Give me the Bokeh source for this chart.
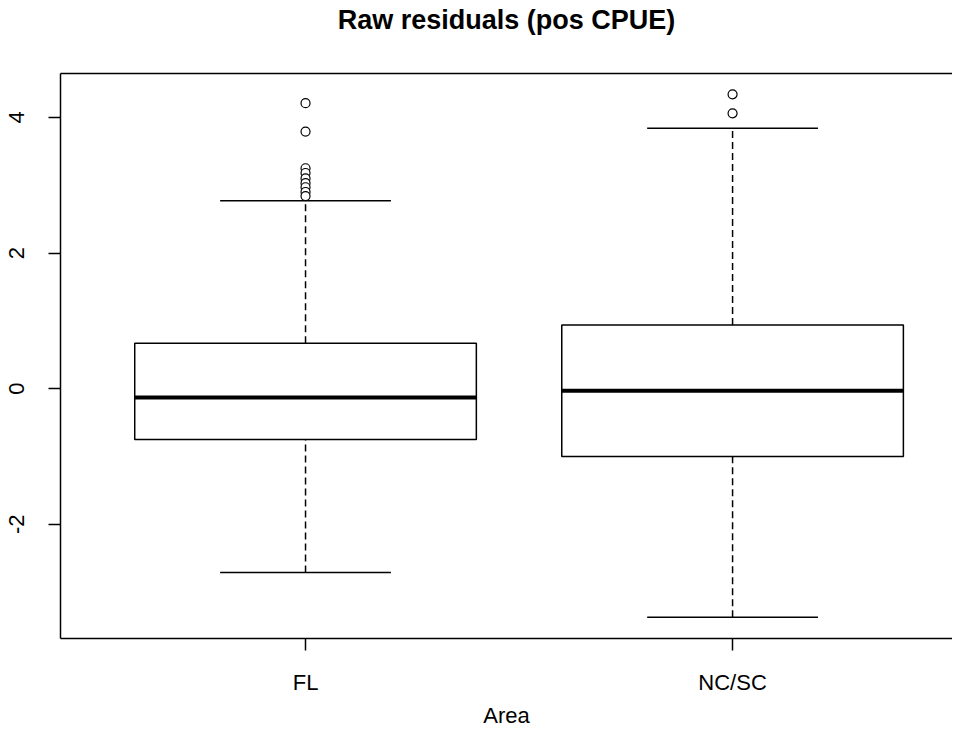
from bokeh.plotting import figure
from bokeh.models import Range1d, FixedTicker, LinearAxis, Title, ColumnDataSource
from bokeh.embed import file_html
from bokeh.resources import INLINE

# ---- data ----
categories = ["FL", "NC/SC"]
positions = [1, 2]
q1 = [-0.75, -1.00]
medians = [-0.13, -0.03]
q3 = [0.67, 0.94]
lower_whisker = [-2.71, -3.37]
upper_whisker = [2.77, 3.84]
outliers_fl = [4.21, 3.79, 3.25, 3.18, 3.10, 3.03, 2.97, 2.90, 2.84]
outliers_ncsc = [4.34, 4.06]
y_ticks = [-2, 0, 2, 4]
y_tick_labels = ["-2", "0", "2", "4"]
title_text = "Raw residuals (pos CPUE)"
x_title = "Area"

FONT = "Liberation Sans"
box_w = 0.8
cap_w = 0.4

p = figure(width=952, height=734, output_backend="svg", toolbar_location=None,
           x_range=Range1d(0.4262, 2.515), y_range=Range1d(-3.684, 4.647),
           title=None, min_border_left=60, min_border_right=0,
           min_border_top=0, min_border_bottom=95)
p.outline_line_color = None
p.xgrid.visible = False
p.ygrid.visible = False
p.background_fill_color = "white"
p.border_fill_color = "white"

src = ColumnDataSource(dict(
    x=positions, q1=q1, med=medians, q3=q3, lw=lower_whisker, uw=upper_whisker,
    left=[x - box_w / 2 for x in positions], right=[x + box_w / 2 for x in positions],
    cl=[x - cap_w / 2 for x in positions], cr=[x + cap_w / 2 for x in positions],
))

# whiskers (dashed)
p.segment(x0="x", y0="q3", x1="x", y1="uw", source=src, line_color="black",
          line_width=1.5, line_dash="7 4")
p.segment(x0="x", y0="lw", x1="x", y1="q1", source=src, line_color="black",
          line_width=1.5, line_dash="7 4")
# caps
p.segment(x0="cl", y0="uw", x1="cr", y1="uw", source=src, line_color="black", line_width=1.5)
p.segment(x0="cl", y0="lw", x1="cr", y1="lw", source=src, line_color="black", line_width=1.5)
# boxes
p.quad(left="left", right="right", bottom="q1", top="q3", source=src,
       fill_color="white", line_color="black", line_width=1.5)
# medians
p.segment(x0="left", y0="med", x1="right", y1="med", source=src, line_color="black", line_width=4)

# outliers
ox = [positions[0]] * len(outliers_fl) + [positions[1]] * len(outliers_ncsc)
oy = outliers_fl + outliers_ncsc
p.scatter(ox, oy, marker="circle", size=9, fill_color="white", line_color="black", line_width=1.2)

# axes
for ax in (p.xaxis[0], p.yaxis[0]):
    ax.axis_line_color = "black"
    ax.axis_line_width = 1.5
    ax.major_tick_line_color = "black"
    ax.major_tick_line_width = 1.5
    ax.major_tick_out = 12
    ax.major_tick_in = 0
    ax.minor_tick_line_color = None
    ax.major_label_text_font = FONT
    ax.major_label_text_font_size = "22px"
    ax.major_label_text_color = "black"

p.yaxis.ticker = FixedTicker(ticks=y_ticks)
p.yaxis.major_label_overrides = {t: s for t, s in zip(y_ticks, y_tick_labels)}
p.yaxis.major_label_orientation = "vertical"
p.yaxis.major_label_standoff = 24

p.xaxis.ticker = FixedTicker(ticks=positions)
p.xaxis.major_label_overrides = {pos: lab for pos, lab in zip(positions, categories)}
p.xaxis.major_label_standoff = 19

# x-axis title
p.add_layout(Title(text=x_title, text_font=FONT, text_font_size="22px",
                   text_font_style="normal", align="center", text_color="black",
                   vertical_align="top", offset=12, standoff=10), "below")

# top border as an axis without ticks; a transparent label gives spacing under the title
top = LinearAxis(ticker=FixedTicker(ticks=[]), axis_line_color="black", axis_line_width=1.5,
                 major_tick_line_color=None, minor_tick_line_color=None,
                 major_label_text_font_size="0px",
                 axis_label=".", axis_label_text_font_size="10px",
                 axis_label_text_alpha=0.0, axis_label_standoff=21)
p.add_layout(top, "above")

p.add_layout(Title(text=title_text, text_font=FONT, text_font_size="27px",
                   text_font_style="bold", align="center", text_color="black",
                   vertical_align="top", offset=12, standoff=9), "above")

open("out.html", "w").write(file_html(p, INLINE))
